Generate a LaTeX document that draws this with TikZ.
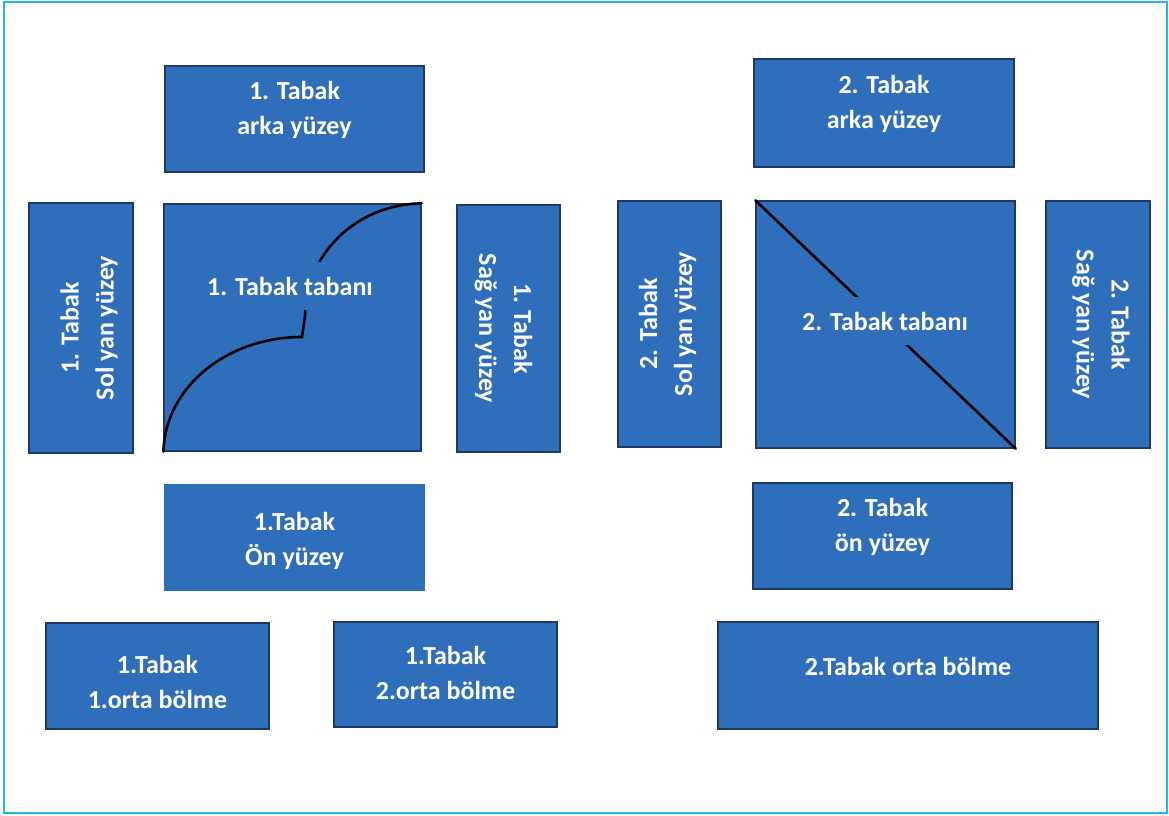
\documentclass[tikz,border=0pt]{standalone}
\usepackage{fontspec}
\setmainfont{Carlito}
\usepackage{tikz}
\usetikzlibrary{positioning}

\definecolor{tabakblue}{HTML}{2F6EBA}
\definecolor{tabakedge}{HTML}{1F3864}
\definecolor{framecyan}{HTML}{27B4EA}

\begin{document}
\begin{tikzpicture}[x=1pt, y=-1pt,
    panel/.style={draw=tabakedge, line width=1.2pt, fill=tabakblue, inner sep=0pt},
    paneltext/.style={text=white, font=\fontsize{26}{35}\selectfont\bfseries,
        align=center, inner sep=0pt},
    covertext/.style={paneltext, fill=tabakblue, inner xsep=6pt, inner ysep=15pt},
    cut/.style={line width=2.6pt, black, line cap=round}]
    \useasboundingbox (0,0) rectangle (1169,815);
    \draw[framecyan, line width=1.6pt] (4,2) rectangle (1167,813);

    % 1. Tabak
    \node[panel, minimum width=259pt, minimum height=106pt] (back1) at (294.5,119) {};
    \node[panel, minimum width=104pt, minimum height=250pt] (left1) at (81,328) {};
    \node[panel, minimum width=257pt, minimum height=247pt] (base1) at (292.5,327.5) {};
    \node[panel, minimum width=103pt, minimum height=247pt] (right1) at (508.5,328.5) {};
    \node[panel, draw=tabakblue, minimum width=259pt, minimum height=105pt] (front1) at (294.5,537.5) {};
    \node[panel, minimum width=223pt, minimum height=106pt] (mid11) at (157.5,676) {};
    \node[panel, minimum width=223pt, minimum height=105pt] (mid12) at (445.5,674.5) {};

    % 2. Tabak
    \node[panel, minimum width=260pt, minimum height=108pt] (back2) at (884,113) {};
    \node[panel, minimum width=103pt, minimum height=246pt] (left2) at (669.5,324) {};
    \node[panel, minimum width=259pt, minimum height=247pt] (base2) at (885.5,324.5) {};
    \node[panel, minimum width=104pt, minimum height=247pt] (right2) at (1098,324.5) {};
    \node[panel, minimum width=259pt, minimum height=106pt] (front2) at (882.5,536) {};
    \node[panel, minimum width=380pt, minimum height=107pt] (mid2) at (908,675.5) {};

    % kesim çizgileri
    \draw[cut] (base1.south west) .. controls (165,388) and (226,337) .. (302,337)
        -- (305,316) .. controls (305,254) and (357,204) .. (base1.north east);
    \draw[cut] (base2.north west) -- (base2.south east);

    % yazılar
    \node[paneltext] (back1text) at ([yshift=9pt]back1.center) {1. Tabak\\arka yüzey};
    \node[paneltext, rotate=90] (left1text) at ([xshift=8pt]left1.center) {1. Tabak\\Sol yan yüzey};
    \node[covertext] (base1text) at (290,286) {1. Tabak tabanı};
    \node[paneltext, rotate=-90] (right1text) at ([xshift=-5pt]right1.center) {1. Tabak\\Sağ yan yüzey};
    \node[paneltext] (front1text) at ([yshift=-3pt]front1.center) {1.Tabak\\Ön yüzey};
    \node[paneltext] (mid11text) at ([yshift=-6pt]mid11.center) {1.Tabak\\1.orta bölme};
    \node[paneltext] (mid12text) at ([yshift=2pt]mid12.center) {1.Tabak\\2.orta bölme};

    \node[paneltext] (back2text) at ([yshift=9pt]back2.center) {2. Tabak\\arka yüzey};
    \node[paneltext, rotate=90] (left2text) at ([xshift=-2pt]left2.center) {2. Tabak\\Sol yan yüzey};
    \node[covertext] (base2text) at (885,321) {2. Tabak tabanı};
    \node[paneltext, rotate=-90] (right2text) at ([xshift=3pt]right2.center) {2. Tabak\\Sağ yan yüzey};
    \node[paneltext] (front2text) at ([yshift=9pt]front2.center) {2. Tabak\\ön yüzey};
    \node[paneltext] (mid2text) at ([yshift=9pt]mid2.center) {2.Tabak orta bölme};
\end{tikzpicture}
\end{document}
